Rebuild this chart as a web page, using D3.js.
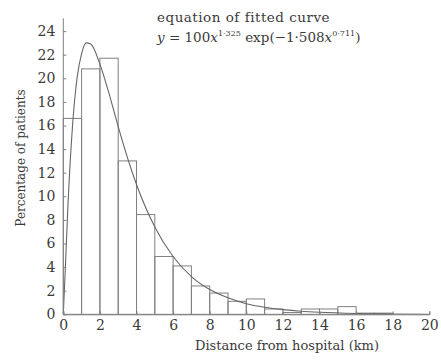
<!DOCTYPE html>
<html><head><meta charset="utf-8">
<script src="https://cdn.jsdelivr.net/npm/d3@7"></script>
<style>body{margin:0;background:#fff}svg{display:block}text{font-family:"DejaVu Serif",serif;fill:#3a3a3a}</style>
</head><body><svg id="c" width="441" height="360"></svg>
<script>
// Histogram bins (km) and percentage of patients
const binStarts = [0,1,2,3,4,5,6,7,8,9,10,11,12,13,14,15,16,17,18,19];
const binPercents = [16.6,20.8,21.7,13.0,8.45,4.9,4.1,2.4,1.8,1.1,1.3,0.45,0.15,0.45,0.45,0.65,0.1,0.1,0,0];
// Fitted curve points
const curveX = [0,0.1,0.25,0.5,0.75,1,1.25,1.5,2,2.5,3,3.5,4,5,6,7,8,9,10,11,12,13,14,16,18,20];
const curveY = [0,3.5,9.1,15.9,20.0,22.1,23.0,22.9,21.2,18.7,15.9,13.3,11.0,7.4,4.9,3.2,2.1,1.4,0.9,0.6,0.4,0.26,0.17,0.07,0.03,0.01];
const xTicks = [0,2,4,6,8,10,12,14,16,18,20];
const yTicks = [0,2,4,6,8,10,12,14,16,18,20,22,24];

const svg = d3.select("#c");
const x = d3.scaleLinear().domain([0,20]).range([63.3,429.3]);
const y = d3.scaleLinear().domain([0,25]).range([314.3,19.3]);
const stroke = "#808080";

// bars
svg.append("g").selectAll("rect").data(binStarts).join("rect")
  .attr("x", d=>x(d)).attr("width", d=>x(d+1)-x(d))
  .attr("y", (d,i)=>y(binPercents[i])).attr("height",(d,i)=>y(0)-y(binPercents[i]))
  .attr("fill","none").attr("stroke",stroke).attr("stroke-width",1);

// curve
const pts = curveX.map((v,i)=>[v,curveY[i]]);
svg.append("path").datum(pts)
  .attr("d", d3.line().x(d=>x(d[0])).y(d=>y(d[1])).curve(d3.curveMonotoneX))
  .attr("fill","none").attr("stroke","#666").attr("stroke-width",1.1);

// axes
const xa = svg.append("g").attr("transform",`translate(0,${y(0)})`)
  .call(d3.axisBottom(x).tickValues(xTicks).tickSize(-3).tickPadding(6).tickFormat(d3.format("d")));
const ya = svg.append("g").attr("transform",`translate(${x(0)},0)`)
  .call(d3.axisLeft(y).tickValues(yTicks).tickSize(-3).tickPadding(8).tickFormat(d3.format("d")));
ya.select(".domain").attr("d", `M0,${y(0)}V${y(0)-296}`);
[xa,ya].forEach(a=>{
  a.selectAll(".domain,line").attr("stroke",stroke);
  a.selectAll("text").attr("font-size",14).attr("font-family","DejaVu Serif").attr("fill","#333");
});

// axis titles
svg.append("text").attr("x",287).attr("y",350).attr("text-anchor","middle")
  .attr("font-size",13).text("Distance from hospital (km)");
svg.append("text").attr("transform","translate(25,158) rotate(-90)").attr("text-anchor","middle")
  .attr("font-size",12).text("Percentage of patients");

// equation
svg.append("text").attr("x",157).attr("y",22).attr("font-size",13.5).attr("letter-spacing",0.5).text("equation of fitted curve");
const eq = svg.append("text").attr("x",157).attr("y",42).attr("font-size",13.5);
eq.append("tspan").attr("font-style","italic").text("y");
eq.append("tspan").text(" = 100");
eq.append("tspan").attr("font-style","italic").text("x");
eq.append("tspan").attr("font-size",8).attr("dy",-6).text("1·325");
eq.append("tspan").attr("dy",6).text(" exp(−1·508");
eq.append("tspan").attr("font-style","italic").text("x");
eq.append("tspan").attr("font-size",8).attr("dy",-6).text("0·711");
eq.append("tspan").attr("dy",6).text(")");
</script></body></html>
